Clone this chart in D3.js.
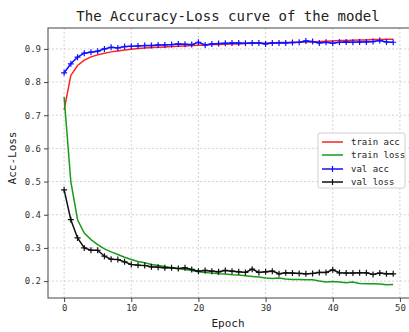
<!DOCTYPE html>
<html><head><meta charset="utf-8">
<script src="https://cdn.jsdelivr.net/npm/d3@7"></script>
<style>body{margin:0;background:#fff}svg{display:block}</style>
</head><body>
<svg id="c" width="409" height="332"></svg>
<script>
const epochs = d3.range(0, 50);
const trainAcc = [0.716,0.820,0.850,0.866,0.876,0.882,0.887,0.891,0.894,0.897,0.899,0.901,0.903,0.904,0.905,0.906,0.907,0.908,0.909,0.910,0.911,0.912,0.913,0.913,0.914,0.915,0.915,0.916,0.917,0.917,0.918,0.918,0.919,0.919,0.920,0.920,0.921,0.921,0.922,0.923,0.924,0.925,0.925,0.926,0.927,0.927,0.928,0.928,0.929,0.929];
const trainLoss = [0.755,0.500,0.385,0.345,0.325,0.310,0.297,0.288,0.280,0.272,0.265,0.259,0.255,0.250,0.247,0.244,0.240,0.237,0.235,0.232,0.228,0.226,0.224,0.222,0.221,0.219,0.218,0.216,0.214,0.212,0.209,0.208,0.209,0.206,0.205,0.205,0.204,0.204,0.200,0.197,0.199,0.197,0.195,0.197,0.193,0.192,0.192,0.191,0.189,0.190];
const valAcc = [0.828,0.855,0.875,0.887,0.890,0.893,0.900,0.905,0.903,0.907,0.908,0.909,0.910,0.910,0.912,0.912,0.913,0.915,0.914,0.913,0.920,0.912,0.915,0.916,0.917,0.918,0.918,0.917,0.918,0.918,0.915,0.918,0.918,0.918,0.919,0.920,0.924,0.922,0.918,0.920,0.917,0.920,0.921,0.920,0.921,0.921,0.922,0.925,0.921,0.920];
const valLoss = [0.475,0.385,0.330,0.300,0.293,0.293,0.275,0.266,0.265,0.258,0.250,0.248,0.247,0.243,0.242,0.240,0.240,0.238,0.240,0.235,0.230,0.232,0.230,0.228,0.232,0.230,0.228,0.226,0.236,0.226,0.228,0.230,0.222,0.225,0.224,0.223,0.222,0.223,0.226,0.226,0.234,0.225,0.224,0.224,0.225,0.225,0.220,0.224,0.222,0.222];
const xTicks = [0,10,20,30,40,50];
const yTicks = [0.2,0.3,0.4,0.5,0.6,0.7,0.8,0.9];
const seriesNames = ["train acc","train loss","val acc","val loss"];
const seriesColors = ["#ff2020","#1a9a1a","#1010ff","#111111"];

const svg = d3.select("#c");
const L = 48, R = 412, T = 28, B = 298;
const x = d3.scaleLinear().domain([-2.4, 51.8]).range([L, R]);
const y = d3.scaleLinear().domain([0.149, 0.963]).range([B, T]);
const font = "'DejaVu Sans Mono', monospace";

// grid
const g = svg.append("g");
g.selectAll(".gx").data(xTicks).join("line")
  .attr("x1", d => x(d)).attr("x2", d => x(d)).attr("y1", T).attr("y2", B)
  .attr("stroke", "#c8c8c8").attr("stroke-width", 0.8).attr("stroke-dasharray", "2,2");
g.selectAll(".gy").data(yTicks).join("line")
  .attr("x1", L).attr("x2", R).attr("y1", d => y(d)).attr("y2", d => y(d))
  .attr("stroke", "#c8c8c8").attr("stroke-width", 0.8).attr("stroke-dasharray", "2,2");

const series = [trainAcc, trainLoss, valAcc, valLoss];
const line = d3.line().x((d, i) => x(epochs[i])).y(d => y(d));
series.forEach((s, k) => {
  svg.append("path").datum(s).attr("d", line).attr("fill", "none")
    .attr("stroke", seriesColors[k]).attr("stroke-width", 1.5);
  if (k >= 2) {
    const m = svg.append("g");
    s.forEach((v, i) => {
      const cx = x(epochs[i]), cy = y(v);
      m.append("path").attr("d", `M${cx-3},${cy}H${cx+3}M${cx},${cy-3}V${cy+3}`)
        .attr("stroke", seriesColors[k]).attr("stroke-width", 1.2);
    });
  }
});

// axes
const xAxis = svg.append("g").attr("transform", `translate(0,${B})`)
  .call(d3.axisBottom(x).tickValues(xTicks).tickSize(4).tickPadding(3));
const yAxis = svg.append("g").attr("transform", `translate(${L},0)`)
  .call(d3.axisLeft(y).tickValues(yTicks).tickFormat(d3.format(".1f")).tickSize(4).tickPadding(3));
[xAxis, yAxis].forEach(a => {
  a.select(".domain").remove();
  a.selectAll("line").attr("stroke", "#444");
  a.selectAll("text").attr("font-family", font).attr("font-size", 9).attr("fill", "#333");
});
// spines
svg.append("rect").attr("x", L).attr("y", T).attr("width", R - L).attr("height", B - T)
  .attr("fill", "none").attr("stroke", "#444").attr("stroke-width", 1);

// labels
svg.append("text").attr("x", 228).attr("y", 21).attr("text-anchor", "middle")
  .attr("font-family", font).attr("font-size", 14).attr("fill", "#222")
  .text("The Accuracy-Loss curve of the model");
svg.append("text").attr("x", 228).attr("y", 327).attr("text-anchor", "middle")
  .attr("font-family", font).attr("font-size", 11).attr("fill", "#222").text("Epoch");
svg.append("text").attr("transform", "translate(16,158) rotate(-90)").attr("text-anchor", "middle")
  .attr("font-family", font).attr("font-size", 11).attr("fill", "#222").text("Acc-Loss");

// legend
const lg = svg.append("g");
lg.append("rect").attr("x", 318).attr("y", 133).attr("width", 87).attr("height", 55).attr("rx", 2)
  .attr("fill", "#fff").attr("fill-opacity", 0.9).attr("stroke", "#d0d0d0");
const ly = [142, 155, 169, 182];
seriesNames.forEach((n, k) => {
  lg.append("line").attr("x1", 322).attr("x2", 343).attr("y1", ly[k]).attr("y2", ly[k])
    .attr("stroke", seriesColors[k]).attr("stroke-width", 1.5);
  if (k >= 2) lg.append("path").attr("d", `M332.5,${ly[k]-3}V${ly[k]+3}`)
    .attr("stroke", seriesColors[k]).attr("stroke-width", 1.2);
  lg.append("text").attr("x", 351).attr("y", ly[k] + 3).attr("font-family", font)
    .attr("font-size", 9).attr("fill", "#222").text(n);
});
</script>
</body></html>
